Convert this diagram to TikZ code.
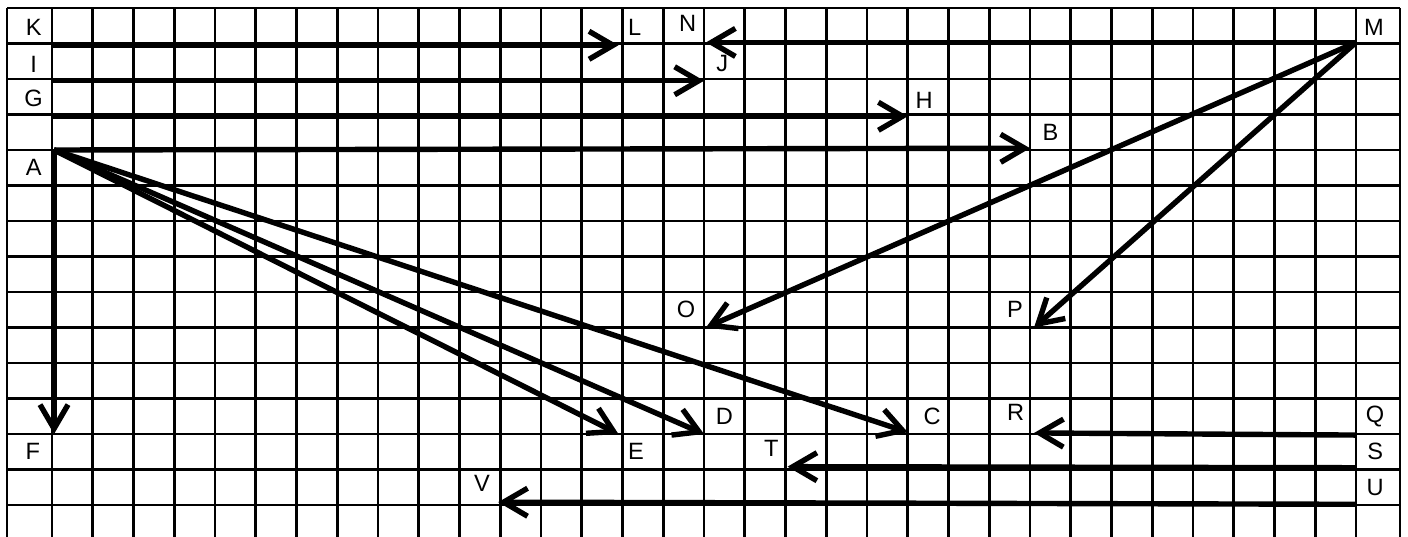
\documentclass[tikz,border=0pt]{standalone}
\usepackage{fontspec}
\setmainfont{Liberation Sans}
\usetikzlibrary{arrows.meta}
\tikzset{
    % grid lines of the sheet
    gridline/.style={line width=1.3pt, draw=black},
    % letters in the cells
    letter/.style={font=\fontsize{11.8}{13}\selectfont, inner sep=0pt, text=black},
    % thick move arrows
    move/.style={
        -{Straight Barb[length=12pt, width=14pt]},
        line width=2.7pt,
        draw=black,
    },
}
\begin{document}
\begin{tikzpicture}[x=20.375pt, y=-17.75pt]
    \useasboundingbox (-1.276,-0.225) rectangle (33.276,14.9);
    % grid
    \foreach \r in {0,...,14}
        \draw[gridline] (-1.104,\r) -- (33.08,\r);
    \foreach \c in {0,...,32}
        \draw[gridline] (\c,0) -- (\c,14.9);
    \draw[gridline] (-1.104,0) -- (-1.104,14.9);
    \draw[gridline] (33.08,0) -- (33.08,14.9);

    % letters
    \node[letter] (K) at (-0.45,0.56) {K};
    \node[letter] (I) at (-0.45,1.6) {I};
    \node[letter] (G) at (-0.45,2.55) {G};
    \node[letter] (A) at (-0.45,4.48) {A};
    \node[letter] (F) at (-0.47,12.5) {F};
    \node[letter] (L) at (14.3,0.54) {L};
    \node[letter] (N) at (15.6,0.44) {N};
    \node[letter] (J) at (16.45,1.55) {J};
    \node[letter] (M) at (32.44,0.56) {M};
    \node[letter] (H) at (21.4,2.6) {H};
    \node[letter] (B) at (24.5,3.5) {B};
    \node[letter] (O) at (15.56,8.5) {O};
    \node[letter] (P) at (23.63,8.5) {P};
    \node[letter] (D) at (16.5,11.5) {D};
    \node[letter] (E) at (14.33,12.5) {E};
    \node[letter] (C) at (21.6,11.5) {C};
    \node[letter] (R) at (23.65,11.4) {R};
    \node[letter] (T) at (17.65,12.4) {T};
    \node[letter] (Q) at (32.47,11.5) {Q};
    \node[letter] (S) at (32.47,12.5) {S};
    \node[letter] (U) at (32.47,13.5) {U};
    \node[letter] (V) at (10.55,13.38) {V};

    % arrow ends
    \coordinate (pK) at (0,1.05);
    \coordinate (pL) at (13.9,1.05);
    \coordinate (pI) at (0,2.05);
    \coordinate (pJ) at (16,2.05);
    \coordinate (pG) at (0,3.05);
    \coordinate (pH) at (21,3.05);
    \coordinate (pA) at (0.05,4);
    \coordinate (pB) at (24,3.95);
    \coordinate (pF) at (0.05,12);
    \coordinate (pE) at (13.9,12);
    \coordinate (pD) at (16,12);
    \coordinate (pC) at (21,11.95);
    \coordinate (pM) at (32,0.97);
    \coordinate (pN) at (16.05,0.97);
    \coordinate (pO) at (16.05,9);
    \coordinate (pP) at (24.1,9);
    \coordinate (pQ) at (32,12.03);
    \coordinate (pR) at (24.1,11.97);
    \coordinate (pS) at (32,12.95);
    \coordinate (pT) at (18.05,12.92);
    \coordinate (pU) at (32,13.98);
    \coordinate (pV) at (10.95,13.92);

    % arrows
    \draw[move] (pK) -- (pL);
    \draw[move] (pI) -- (pJ);
    \draw[move] (pG) -- (pH);
    \draw[move] (pA) -- (pB);
    \draw[move] (pA) -- (pF);
    \draw[move] (pA) -- (pE);
    \draw[move] (pA) -- (pD);
    \draw[move] (pA) -- (pC);
    \draw[move] (pM) -- (pN);
    \draw[move] (pM) -- (pO);
    \draw[move] (pM) -- (pP);
    \draw[move] (pQ) -- (pR);
    \draw[move] (pS) -- (pT);
    \draw[move] (pU) -- (pV);
\end{tikzpicture}
\end{document}
